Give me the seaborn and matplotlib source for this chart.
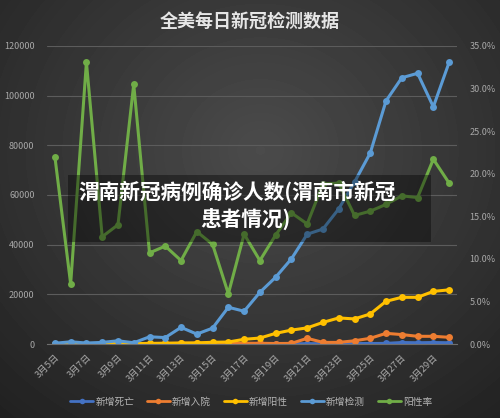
import matplotlib

matplotlib.use("Agg")

import matplotlib.pyplot as plt
import numpy as np
import pandas as pd
import seaborn as sns
from matplotlib.lines import Line2D
from matplotlib.patches import Rectangle
from matplotlib.ticker import FuncFormatter, MultipleLocator

DATES = [f"3月{d}日" for d in range(5, 31)]
DEATHS = [20, 30, 20, 30, 40, 30, 40, 50, 50, 60, 60, 80, 80, 90, 100, 100,
          120, 150, 150, 180, 200, 250, 600, 500, 600, 500]
ADMITS = [100, 100, 100, 150, 150, 200, 200, 250, 300, 300, 400, 400, 300,
          300, 200, 250, 2300, 650, 650, 1300, 2300, 4300, 3800, 3100, 3100, 2700]
POSITIVE = [100, 150, 100, 150, 200, 150, 250, 300, 400, 450, 700, 800, 1900,
            2400, 4300, 5600, 6500, 8700, 10500, 10100, 12100, 17200, 18800,
            18800, 21200, 21800]
TESTS = [300, 900, 400, 650, 1300, 500, 2900, 2600, 6700, 4000, 6400, 14800,
         13200, 20800, 26900, 34300, 44200, 46300, 54400, 65200, 76900, 97900,
         107200, 109000, 95500, 113400]
POS_RATE = [22.0, 7.05, 33.1, 12.6, 14.0, 30.5, 10.7, 11.5, 9.8, 13.2, 11.7,
            5.9, 12.9, 9.8, 12.8, 15.4, 14.1, 18.8, 18.9, 15.1, 15.6, 16.4,
            17.4, 17.2, 21.7, 18.9]

SERIES = [
    ("新增死亡", DEATHS, "#4472C4"),
    ("新增入院", ADMITS, "#ED7D31"),
    ("新增阳性", POSITIVE, "#FFC000"),
    ("新增检测", TESTS, "#5B9BD5"),
]
RATE_LABEL = "阳性率"
RATE_COLOR = "#70AD47"

TITLE = "全美每日新冠检测数据"
OVERLAY_1 = "渭南新冠病例确诊人数(渭南市新冠"
OVERLAY_2 = "患者情况)"

sns.set_style("dark")
plt.rcParams["font.family"] = ["Noto Sans CJK SC", "DejaVu Sans"]
plt.rcParams["axes.unicode_minus"] = False

TICK_COLOR = "#a8a8a8"

fig = plt.figure(figsize=(5.0, 4.18), dpi=100)

# radial dark background
bg = fig.add_axes([0, 0, 1, 1], zorder=-10)
yy, xx = np.mgrid[0:418, 0:500]
dist = np.sqrt(((xx - 260) / 330.0) ** 2 + ((yy - 150) / 300.0) ** 2)
shade = np.clip(0.295 - 0.14 * dist, 0.13, 0.295)
bg.imshow(shade, cmap="gray", vmin=0, vmax=1, aspect="auto", interpolation="bilinear")
bg.axis("off")

df = pd.DataFrame({"date": DATES, "idx": range(len(DATES))})

ax = fig.add_axes([0.094, 0.177, 0.82, 0.713])
ax.set_facecolor("none")
for label, values, color in SERIES:
    sns.lineplot(x=df["idx"], y=values, ax=ax, color=color, linewidth=2.2,
                 marker="o", markersize=5, markeredgewidth=0, label=label, legend=False)

ax2 = ax.twinx()
ax2.set_facecolor("none")
sns.lineplot(x=df["idx"], y=POS_RATE, ax=ax2, color=RATE_COLOR, linewidth=2.2,
             marker="o", markersize=5, markeredgewidth=0, label=RATE_LABEL, legend=False)

ax.set_xlim(-0.5, len(DATES) - 0.5)
ax.set_ylim(0, 120000)
ax2.set_ylim(0, 35)
ax.yaxis.set_major_locator(MultipleLocator(20000))
ax2.yaxis.set_major_locator(MultipleLocator(5))
ax2.yaxis.set_major_formatter(FuncFormatter(lambda v, _: f"{v:.1f}%"))

ax.grid(False)
ax2.grid(False)
ax.yaxis.grid(True, color="#5c5c5c", linewidth=0.8)
ax.set_axisbelow(True)

ax.set_xticks(df["idx"][::2])
ax.set_xticklabels(df["date"][::2], rotation=45, ha="right", rotation_mode="anchor")
ax.set_xticks(np.arange(-0.5, len(DATES), 1), minor=True)
ax.tick_params(axis="x", which="major", length=0, pad=6, labelsize=6.8, labelcolor=TICK_COLOR)
ax.tick_params(axis="x", which="minor", length=3, color="#6e6e6e", width=0.8)
ax.tick_params(axis="y", length=0, pad=9, labelsize=6.5, labelcolor=TICK_COLOR)
ax2.tick_params(axis="y", length=0, pad=9, labelsize=6.5, labelcolor=TICK_COLOR)
ax.set_xlabel("")
ax.set_ylabel("")
ax2.set_ylabel("")

for a in (ax, ax2):
    for side in ("top", "left", "right", "bottom"):
        a.spines[side].set_visible(False)
ax.spines["bottom"].set_visible(True)
ax.spines["bottom"].set_color("#6e6e6e")
ax.spines["bottom"].set_linewidth(0.8)

fig.text(0.5, 0.95, TITLE, ha="center", va="center", fontsize=13,
         color="#e6e6e6", fontweight="bold")

# translucent caption box over the plot
fig.patches.append(Rectangle((0.136, 0.421), 0.726, 0.160, transform=fig.transFigure,
                             facecolor="black", alpha=0.38, edgecolor="none", zorder=5))
fig.text(0.475, 0.541, OVERLAY_1, ha="center", va="center", fontsize=14.9,
         color="white", fontweight="bold", zorder=6)
fig.text(0.49, 0.474, OVERLAY_2, ha="center", va="center", fontsize=14.9,
         color="white", fontweight="bold", zorder=6)

handles = [Line2D([], [], color=c, linewidth=2.0, marker="o", markersize=4, markeredgewidth=0)
           for _, _, c in SERIES]
handles.append(Line2D([], [], color=RATE_COLOR, linewidth=2.0, marker="o", markersize=4,
                      markeredgewidth=0))
labels = [s[0] for s in SERIES] + [RATE_LABEL]
fig.legend(handles, labels, loc="center", bbox_to_anchor=(0.502, 0.039), ncol=5,
           frameon=False, fontsize=7, labelcolor="#b4b4b4", handlelength=2.4,
           handletextpad=0.2, columnspacing=1.3)

fig.savefig("out.png", dpi=100)
